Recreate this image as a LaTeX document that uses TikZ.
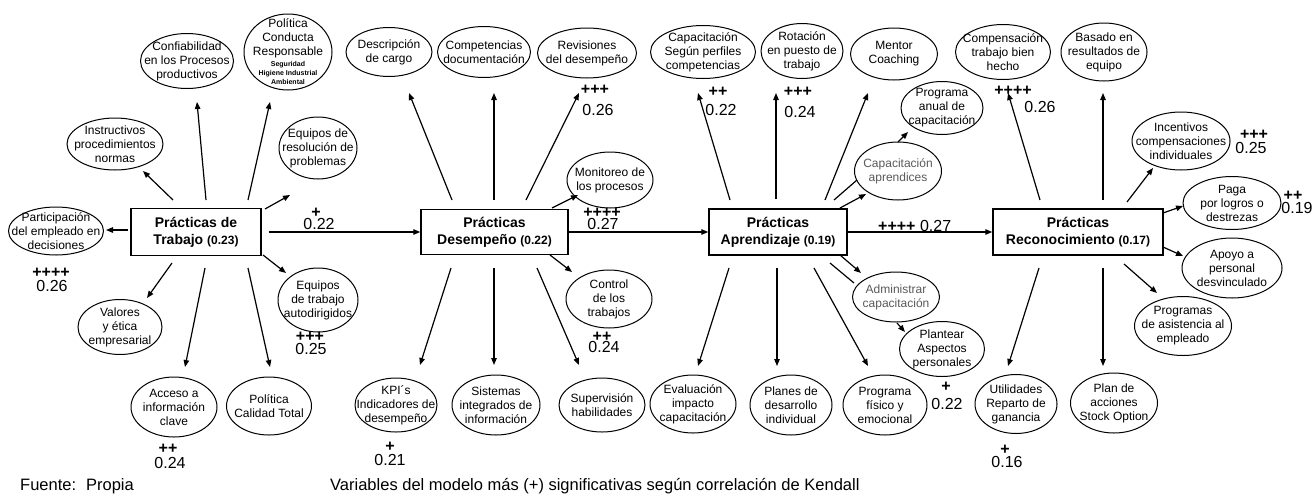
\documentclass[tikz,border=0pt]{standalone}
\usepackage{fontspec}
\setmainfont{Liberation Sans}
\usetikzlibrary{shapes.geometric,arrows.meta}
\newcommand\ovl[6]{\node[ov,minimum width=#4,minimum height=#5] (#1) at (#2,#3) {}; \node[ovt] (#1t) at (#2,#3) {#6};}
\newcommand\cn[4]{\coordinate (#2s) at (#3); \coordinate (#2e) at (#4); \draw[#1] (#2s) -- (#2e);}
\newcommand\lab[5]{\node[pl] (#1p) at (#2) {#3}; \node[num] (#1n) at (#4) {#5};}
\newcommand\pv[1]{{\fontsize{12}{12}\selectfont(#1)}}
\definecolor{gtx}{gray}{0.35}
\begin{document}
\begin{tikzpicture}[x=1pt,y=-1pt,
  ov/.style={ellipse,draw,line width=1pt,inner sep=0pt},
  ovt/.style={align=center,inner sep=0pt,font=\fontsize{12}{14}\selectfont},
  box/.style={draw,line width=1.5pt,inner sep=0pt,align=center,font=\fontsize{14}{17}\selectfont\bfseries},
  ar/.style={line width=1.2pt,-{Triangle[length=7pt,width=5.5pt]}},
  ln/.style={line width=1.2pt},
  pl/.style={anchor=base,inner sep=0pt,font=\fontsize{16}{16}\selectfont\bfseries},
  num/.style={anchor=base,inner sep=0pt,font=\fontsize{16}{16}\selectfont},
]
\useasboundingbox (0,0) rectangle (1313,493);

% boxes
\node[box,minimum width=130,minimum height=47] (trab) at (196,232) {Prácticas de\\Trabajo \pv{0.23}};
\node[box,minimum width=147,minimum height=45] (des) at (494.5,232) {Prácticas\\Desempeño \pv{0.22}};
\node[box,minimum width=138,minimum height=46] (apr) at (778,232) {Prácticas\\Aprendizaje \pv{0.19}};
\node[box,minimum width=170,minimum height=46] (rec) at (1078,232) {Prácticas\\Reconocimiento \pv{0.17}};

% Trabajo group
\ovl{part}{56}{231}{95}{48}{Participación\\del empleado en\\decisiones}
\ovl{inst}{115}{144}{96}{52}{Instructivos\\procedimientos\\normas}
\ovl{conf}{187}{61}{93}{55}{Confiabilidad\\en los Procesos\\productivos}
\ovl{polr}{288}{52}{88}{76}{Política\\Conducta\\Responsable\\[-3pt]{\fontsize{7}{8}\selectfont\bfseries Seguridad}\\[-5pt]{\fontsize{7}{8}\selectfont\bfseries Higiene Industrial}\\[-5pt]{\fontsize{7}{8}\selectfont\bfseries Ambiental}}
\ovl{eqr}{318}{148}{78}{62}{Equipos de\\resolución de\\problemas}
\ovl{val}{120}{327}{84}{55}{Valores\\y ética\\empresarial}
\ovl{acc}{174}{407}{86}{60}{Acceso a\\información\\clave}
\ovl{polc}{269}{406}{85}{58}{Política\\Calidad Total}
\ovl{eqt}{318}{300}{80}{64}{Equipos\\de trabajo\\autodirigidos}

% Desempeño group
\ovl{desc}{389}{52}{86}{49}{Descripción\\de cargo}
\ovl{comp}{484}{52}{93}{51}{Competencias\\documentación}
\ovl{rev}{587}{53}{99}{50}{Revisiones\\del desempeño}
\ovl{mon}{610}{180}{86}{56}{Monitoreo de\\los procesos}
\ovl{ctrl}{609}{299}{86}{58}{Control\\de los\\trabajos}
\ovl{kpi}{396}{405}{82}{54}{KPI´s\\Indicadores de\\desempeño}
\ovl{sis}{496}{405}{88}{60}{Sistemas\\integrados de\\información}
\ovl{sup}{602}{405}{86}{54}{Supervisión\\habilidades}

% Aprendizaje group
\ovl{capp}{703}{52}{105}{53}{Capacitación\\Según perfiles\\competencias}
\ovl{rot}{802}{51}{82}{55}{Rotación\\en puesto de\\trabajo}
\ovl{men}{894}{54}{87}{52}{Mentor\\Coaching}
\ovl{prog}{942}{108}{82}{53}{Programa\\anual de\\capacitación}
\ovl{capa}{898}{171}{87}{58}{\color{gtx}Capacitación\\\color{gtx}aprendices}
\ovl{eval}{693}{404}{86}{58}{Evaluación\\impacto\\capacitación}
\ovl{plan}{791}{405}{82}{60}{Planes de\\desarrollo\\individual}
\ovl{pfis}{885}{405}{84}{60}{Programa\\físico y\\emocional}
\ovl{adm}{896}{297}{87}{50}{\color{gtx}Administrar\\\color{gtx}capacitación}
\ovl{plant}{942}{349}{85}{55}{Plantear\\Aspectos\\personales}

% Reconocimiento group
\ovl{compn}{1003}{52}{95}{55}{Compensación\\trabajo bien\\hecho}
\ovl{bas}{1104}{52}{86}{58}{Basado en\\resultados de\\equipo}
\ovl{inc}{1181}{141}{98}{58}{Incentivos\\compensaciones\\individuales}
\ovl{paga}{1232}{203}{98}{53}{Paga\\por logros o\\destrezas}
\ovl{apo}{1232}{268}{100}{60}{Apoyo a\\personal\\desvinculado}
\ovl{pasi}{1183}{326}{97}{59}{Programas\\de asistencia al\\empleado}
\ovl{util}{1016}{404}{82}{59}{Utilidades\\Reparto de\\ganancia}
\ovl{plac}{1114}{403}{87}{60}{Plan de\\acciones\\Stock Option}

% horizontal connectors
\draw[ar,shorten <=7pt] (trab.east) -- (des.west);
\draw[ar] (des.east) -- (apr.west);
\draw[ar] (apr.east) -- (rec.west);

% Trabajo arrows
\cn{ar}{a1}{128,230}{106,230}
\cn{ar}{a2}{173,200}{143,171}
\cn{ar}{a3}{206,200}{197,102}
\cn{ar}{a4}{248,200}{270,102}
\cn{ar}{a5}{265,209}{290,195}
\cn{ar}{a6}{172,263}{147,298}
\cn{ar}{a7}{205,268}{185,367}
\cn{ar}{a8}{248,268}{270,367}
\cn{ar}{a9}{263,255}{286,273}

% Desempeño arrows
\cn{ar}{b1}{452,200}{409,93}
\cn{ar}{b2}{494,200}{494,93}
\cn{ar}{b3}{526,200}{579,93}
\cn{ar}{b4}{552,208}{578,195}
\cn{ar}{b5}{451,268}{420,365}
\cn{ar}{b6}{494,268}{494,365}
\cn{ar}{b7}{537,268}{579,365}
\cn{ar}{b8}{550,255}{572,272}

% Aprendizaje arrows
\cn{ar}{c1}{730,200}{698,93}
\cn{ar}{c2}{776,199}{776,93}
\cn{ar}{c3}{825,200}{868,93}
\cn{ln}{c4}{834,200}{857,180}
\cn{ar}{c5}{840,208}{866,194}
\cn{ar}{c6}{898,142}{908,132}
\cn{ar}{c7}{729,268}{698,366}
\cn{ar}{c8}{777,268}{777,366}
\cn{ar}{c9}{814,268}{868,366}
\cn{ln}{c10}{830,263}{854,283}
\cn{ar}{c11}{840,255}{861,273}
\cn{ar}{c12}{897,323}{905,332}

% Reconocimiento arrows
\cn{ar}{d1}{1040,200}{1008,93}
\cn{ar}{d2}{1103,200}{1103,93}
\cn{ar}{d3}{1127,202}{1153,168}
\cn{ar}{d4}{1163,213}{1183,206}
\cn{ar}{d5}{1163,247}{1183,256}
\cn{ar}{d6}{1124,264}{1157,293}
\cn{ar}{d7}{1039,268}{1008,366}
\cn{ar}{d8}{1103,268}{1103,366}

% significance labels
\lab{l1}{316,217}{+}{319,229.5}{0.22}
\lab{l2}{51,277.7}{++++}{52,291}{0.26}
\lab{l3}{310,341}{+++}{311,354}{0.25}
\lab{l4}{168,453}{++}{170,468}{0.24}
\lab{l5}{595,94}{+++}{598,115}{0.26}
\lab{l6}{602,217}{++++}{603,229}{0.27}
\lab{l7}{602,341}{++}{604,352}{0.24}
\lab{l8}{390,451}{+}{390,465}{0.21}
\lab{l9}{718,96}{++}{721,115}{0.22}
\lab{l10}{798,96}{+++}{800,117}{0.24}
\node[anchor=base west,inner sep=0pt,font=\fontsize{16}{16}\selectfont] (l11) at (878,231.5) {\textbf{++++} 0.27};
\lab{l12}{946,391}{+}{947,409}{0.22}
\lab{l13}{1013,95}{++++}{1040,112}{0.26}
\lab{l14}{1254,139}{+++}{1251,153}{0.25}
\lab{l15}{1293,200}{++}{1297,213}{0.19}
\lab{l16}{1005,454}{+}{1007,467}{0.16}

% footer
\node[anchor=base west,inner sep=0pt,font=\fontsize{16.5}{16.5}\selectfont] (fuente) at (20,490) {Fuente:\hspace{10pt}Propia};
\node[anchor=base west,inner sep=0pt,font=\fontsize{16.5}{16.5}\selectfont] (varmod) at (330,490) {Variables del modelo más (+) significativas según correlación de Kendall};
\end{tikzpicture}
\end{document}
